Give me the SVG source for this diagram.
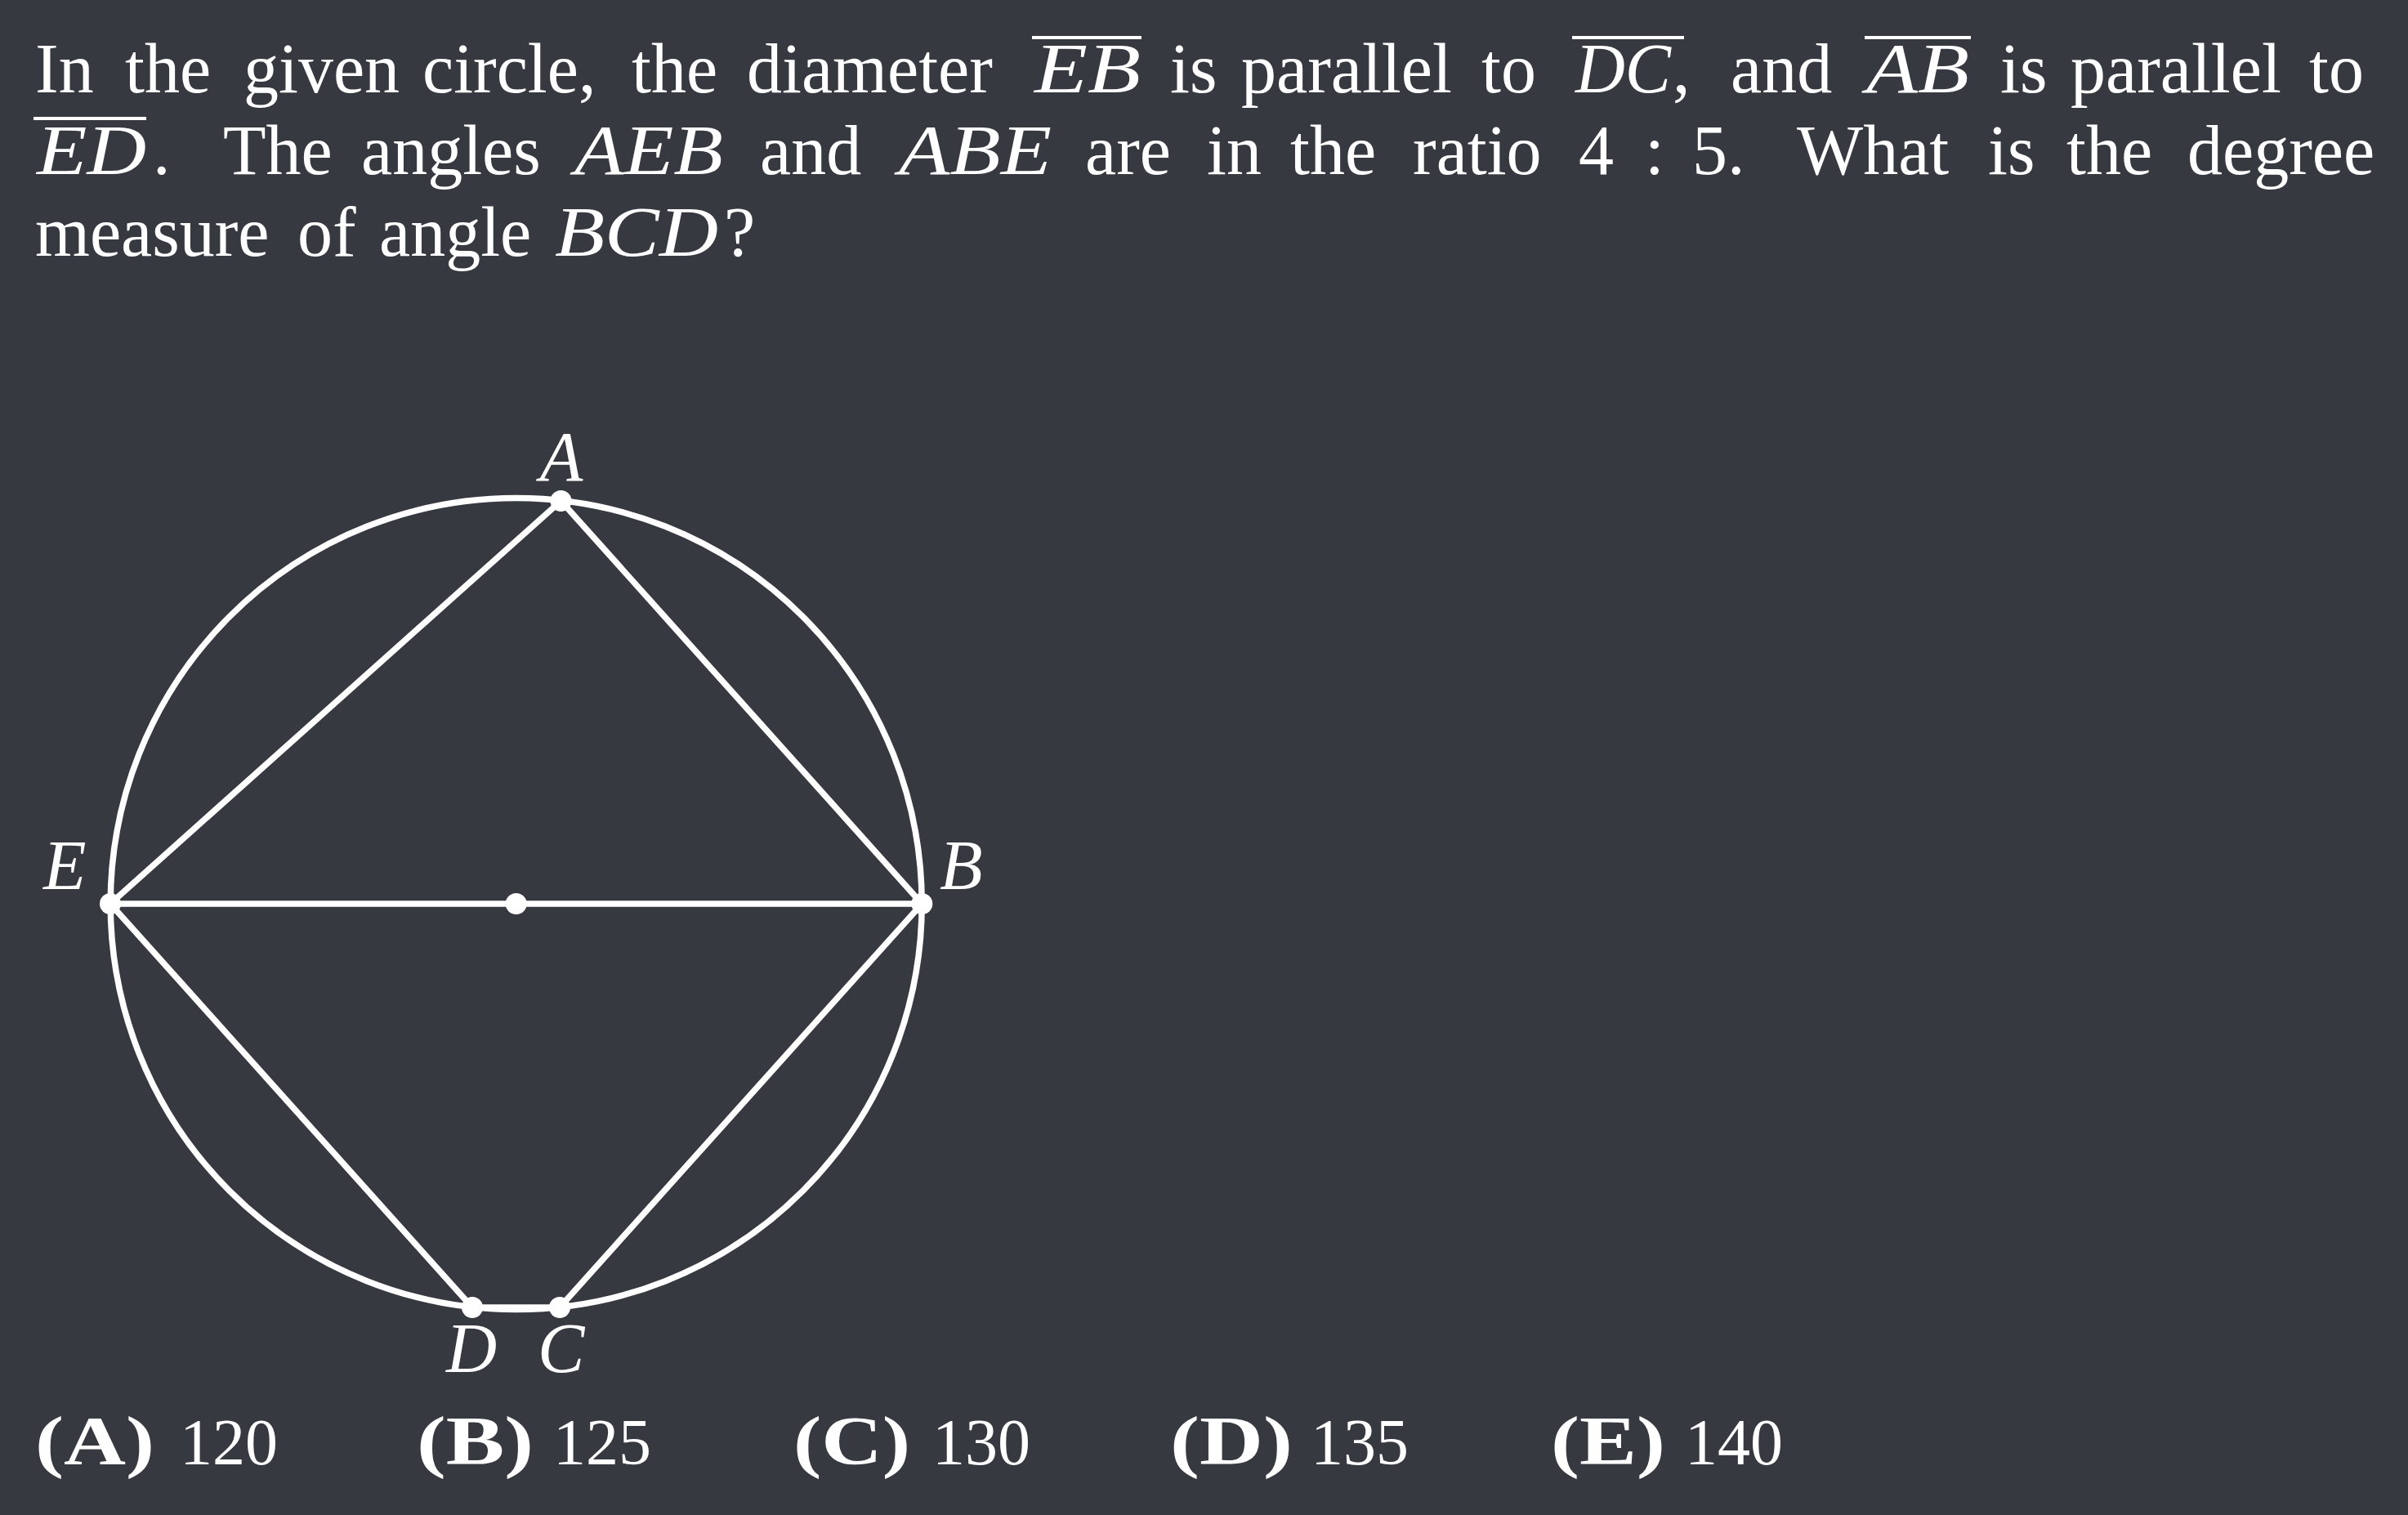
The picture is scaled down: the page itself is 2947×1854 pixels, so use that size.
<svg xmlns="http://www.w3.org/2000/svg" width="2947" height="1854" viewBox="0 0 2947 1854">
<style>
.t{font-family:"Liberation Serif","Times New Roman",serif;font-size:86px;fill:#ffffff}
.i{font-style:italic}
.ans{font-family:"Liberation Serif","Times New Roman",serif;font-size:80px;fill:#ffffff}
.b{font-weight:bold;font-size:84px}
.lbl{font-family:"Liberation Serif","Times New Roman",serif;font-size:86px;font-style:italic;fill:#ffffff}
.ln{stroke:#ffffff;stroke-width:7.5;fill:none;stroke-linecap:round}
.dot{fill:#ffffff}
.ov{fill:#ffffff}
</style>
<rect x="0" y="0" width="2947" height="1854" fill="#36393f"/>
<g id="question">
<text class="t" y="113"><tspan x="43">In</tspan><tspan x="153">the</tspan><tspan x="298">given</tspan><tspan x="517">circle,</tspan><tspan x="773">the</tspan><tspan x="914">diameter</tspan><tspan x="1432">is</tspan><tspan x="1519">parallel</tspan><tspan x="1813">to</tspan><tspan x="2047">,</tspan><tspan x="2118">and</tspan><tspan x="2448">is</tspan><tspan x="2534">parallel</tspan><tspan x="2826">to</tspan></text>
<text class="t i" x="1266" y="113" textLength="130" lengthAdjust="spacingAndGlyphs">EB</text>
<text class="t i" x="1928" y="113" textLength="117" lengthAdjust="spacingAndGlyphs">DC</text>
<text class="t i" x="2284" y="113" textLength="126" lengthAdjust="spacingAndGlyphs">AB</text>
<rect class="ov" x="1263" y="44" width="134" height="4"/>
<rect class="ov" x="1924" y="44" width="137" height="4"/>
<rect class="ov" x="2282" y="44" width="130" height="4"/>
<text class="t" y="213"><tspan x="187">.</tspan><tspan x="273">The</tspan><tspan x="442">angles</tspan><tspan x="930">and</tspan><tspan x="1328">are</tspan><tspan x="1477">in</tspan><tspan x="1579">the</tspan><tspan x="1729">ratio</tspan><tspan x="1932">4</tspan><tspan x="2013">:</tspan><tspan x="2071">5.</tspan><tspan x="2199">What</tspan><tspan x="2433">is</tspan><tspan x="2529">the</tspan><tspan x="2677">degree</tspan></text>
<text class="t i" x="45" y="213" textLength="134" lengthAdjust="spacingAndGlyphs">ED</text>
<text class="t i" x="703" y="213" textLength="182" lengthAdjust="spacingAndGlyphs">AEB</text>
<text class="t i" x="1100" y="213" textLength="187" lengthAdjust="spacingAndGlyphs">ABE</text>
<rect class="ov" x="41" y="143" width="138" height="4"/>
<text class="t" y="313"><tspan x="43">measure</tspan><tspan x="364">of</tspan><tspan x="464">angle</tspan><tspan x="886">?</tspan></text>
<text class="t i" x="679" y="313" textLength="200" lengthAdjust="spacingAndGlyphs">BCD</text>
</g>
<g id="circle">
<circle class="ln" cx="631.7" cy="1106" r="496.5"/>
</g>
<g id="connectors">
<line class="ln" x1="135" y1="1106" x2="1128.3" y2="1106"/>
<line class="ln" x1="135" y1="1106" x2="686.5" y2="613"/>
<line class="ln" x1="686.5" y1="613" x2="1128.3" y2="1106"/>
<line class="ln" x1="135" y1="1106" x2="578" y2="1600"/>
<line class="ln" x1="1128.3" y1="1106" x2="685" y2="1600"/>
<line class="ln" x1="578" y1="1600" x2="685" y2="1600"/>
</g>
<g id="node-A"><circle class="dot" cx="686.5" cy="613" r="13"/><text class="lbl" x="687" y="588" text-anchor="middle">A</text></g>
<g id="node-B"><circle class="dot" cx="1128.3" cy="1106" r="13"/><text class="lbl" x="1150" y="1088">B</text></g>
<g id="node-E"><circle class="dot" cx="135" cy="1106" r="13"/><text class="lbl" x="53" y="1088">E</text></g>
<g id="node-D"><circle class="dot" cx="578" cy="1600" r="13"/><text class="lbl" x="546" y="1679">D</text></g>
<g id="node-C"><circle class="dot" cx="685" cy="1600" r="13"/><text class="lbl" x="658" y="1679">C</text></g>
<g id="node-O"><circle class="dot" cx="631.7" cy="1106" r="13"/></g>
<g id="answers">
<text class="ans b" x="43" y="1792" textLength="146" lengthAdjust="spacingAndGlyphs">(A)</text>
<text class="ans b" x="510" y="1792" textLength="143" lengthAdjust="spacingAndGlyphs">(B)</text>
<text class="ans b" x="971" y="1792" textLength="143" lengthAdjust="spacingAndGlyphs">(C)</text>
<text class="ans b" x="1432" y="1792" textLength="150" lengthAdjust="spacingAndGlyphs">(D)</text>
<text class="ans b" x="1898" y="1792" textLength="140" lengthAdjust="spacingAndGlyphs">(E)</text>
<text class="ans" y="1792"><tspan x="220">120</tspan><tspan x="677">125</tspan><tspan x="1141">130</tspan><tspan x="1604">135</tspan><tspan x="2062">140</tspan></text>
</g>
</svg>
